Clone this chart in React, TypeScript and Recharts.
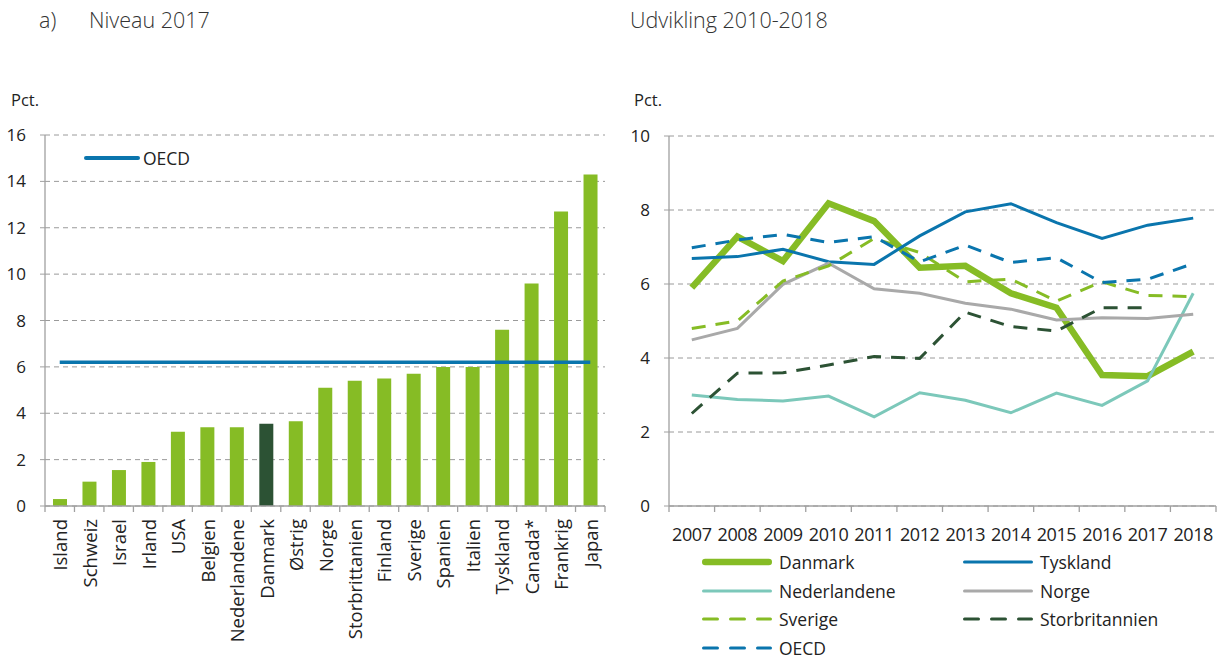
import React from "react";
import {
  Bar,
  CartesianGrid,
  Cell,
  ComposedChart,
  Line,
  LineChart,
  XAxis,
  YAxis,
} from "recharts";

const FONT = "'Open Sans', 'Noto Sans', sans-serif";
const TEXT = "#222";
const AXIS = "#a0a0a0";
const GRID = "#9a9a9a";
const GREEN = "#86bc25";
const DARK_GREEN = "#2c5234";
const BLUE = "#0a75ad";
const TEAL = "#7cc8ba";
const GREY = "#a9a9a9";

// Niveau 2017
const countries = [
  "Island", "Schweiz", "Israel", "Irland", "USA", "Belgien", "Nederlandene",
  "Danmark", "Østrig", "Norge", "Storbrittanien", "Finland", "Sverige",
  "Spanien", "Italien", "Tyskland", "Canada*", "Frankrig", "Japan",
];
const level2017 = [
  0.3, 1.05, 1.55, 1.9, 3.2, 3.4, 3.4, 3.55, 3.65, 5.1, 5.4, 5.5, 5.7, 6.0,
  6.0, 7.6, 9.6, 12.7, 14.3,
];
const oecd2017 = 6.2;
const highlighted = "Danmark";
const levelTicks = [0, 2, 4, 6, 8, 10, 12, 14, 16];

// Udvikling
const years = [
  "2007", "2008", "2009", "2010", "2011", "2012",
  "2013", "2014", "2015", "2016", "2017", "2018",
];
const danmark = [5.9, 7.28, 6.62, 8.18, 7.7, 6.44, 6.49, 5.75, 5.36, 3.54, 3.51, 4.17];
const tyskland = [6.69, 6.74, 6.94, 6.6, 6.53, 7.3, 7.95, 8.17, 7.66, 7.23, 7.59, 7.78];
const nederlandene = [3.0, 2.88, 2.84, 2.97, 2.41, 3.06, 2.86, 2.52, 3.05, 2.72, 3.38, 5.75];
const norge = [4.49, 4.8, 5.99, 6.56, 5.87, 5.75, 5.48, 5.32, 5.03, 5.09, 5.07, 5.18];
const sverige = [4.8, 5.0, 6.08, 6.49, 7.23, 6.85, 6.06, 6.13, 5.54, 6.06, 5.69, 5.66];
const storbritannien = [2.5, 3.59, 3.6, 3.81, 4.04, 3.99, 5.24, 4.85, 4.73, 5.36, 5.36, null];
const oecd = [6.98, 7.19, 7.34, 7.12, 7.28, 6.6, 7.05, 6.58, 6.71, 6.04, 6.13, 6.55];
const trendTicks = [0, 2, 4, 6, 8, 10];

const series = [
  { key: "Danmark", values: danmark, color: GREEN, width: 6.5, dash: undefined },
  { key: "Tyskland", values: tyskland, color: BLUE, width: 3, dash: undefined },
  { key: "Nederlandene", values: nederlandene, color: TEAL, width: 3, dash: undefined },
  { key: "Norge", values: norge, color: GREY, width: 3, dash: undefined },
  { key: "Sverige", values: sverige, color: GREEN, width: 3, dash: "14 10" },
  { key: "Storbritannien", values: storbritannien, color: DARK_GREEN, width: 3, dash: "14 10" },
  { key: "OECD", values: oecd, color: BLUE, width: 3, dash: "14 10" },
];

const barData = countries.map((country, i) => ({
  country,
  value: level2017[i],
  oecd: oecd2017,
}));

const lineData = years.map((year, i) => {
  const row: Record<string, any> = { year };
  series.forEach((s) => (row[s.key] = s.values[i]));
  return row;
});

const LEFT_BAND = 560 / countries.length;
const RIGHT_BAND = 547 / years.length;

const CategoryTick = (props: any) => {
  const { x, y, payload, index, band, count, rotate } = props;
  const last = index === count - 1;
  const ly = y + (rotate ? 13 : 35);
  return (
    <g>
      <line x1={x - band / 2} y1={y} x2={x - band / 2} y2={y + 6} stroke={AXIS} strokeWidth={1.3} />
      {last && (
        <line x1={x + band / 2} y1={y} x2={x + band / 2} y2={y + 6} stroke={AXIS} strokeWidth={1.3} />
      )}
      {rotate ? (
        <text
          x={x}
          y={ly}
          transform={`rotate(-90, ${x}, ${ly})`}
          textAnchor="end"
          dominantBaseline="central"
          fontSize={18.5}
          fill={TEXT}
          fontFamily={FONT}
        >
          {payload.value}
        </text>
      ) : (
        <text x={x} y={ly} textAnchor="middle" fontSize={18} fill={TEXT} fontFamily={FONT} letterSpacing={-0.4}>
          {payload.value}
        </text>
      )}
    </g>
  );
};

const LegendSwatch = ({ color, width, dash }: any) => (
  <svg width={72} height={10} style={{ display: "block" }}>
    <line
      x1={width / 2 + 1}
      y1={5}
      x2={71 - width / 2}
      y2={5}
      stroke={color}
      strokeWidth={width}
      strokeDasharray={dash ? "14 13" : undefined}
      strokeLinecap="round"
    />
  </svg>
);

const TrendLegend = () => (
  <div
    style={{
      position: "absolute",
      left: 701,
      top: 548,
      display: "grid",
      gridTemplateColumns: "261px 200px",
      fontFamily: FONT,
      fontSize: 17.5,
      lineHeight: "20px",
      color: TEXT,
    }}
  >
    {series.map((s) => (
      <div key={s.key} style={{ display: "flex", alignItems: "center", height: 28.6 }}>
        <LegendSwatch color={s.color} width={s.width} dash={s.dash} />
        <span style={{ marginLeft: 6 }}>{s.key}</span>
      </div>
    ))}
  </div>
);

const LevelLegend = () => (
  <div
    style={{
      position: "absolute",
      left: 84,
      top: 147,
      display: "flex",
      alignItems: "center",
      height: 22,
      fontFamily: FONT,
      fontSize: 17.5,
      color: TEXT,
    }}
  >
    <svg width={56} height={10} style={{ display: "block" }}>
      <line x1={2} y1={5} x2={54} y2={5} stroke={BLUE} strokeWidth={4} strokeLinecap="round" />
    </svg>
    <span style={{ marginLeft: 3 }}>OECD</span>
  </div>
);

const titleStyle: React.CSSProperties = {
  position: "absolute",
  fontFamily: FONT,
  fontSize: 21.5,
  fontWeight: 300,
  color: "#333",
  lineHeight: "24px",
  whiteSpace: "nowrap",
};

const unitStyle: React.CSSProperties = {
  position: "absolute",
  fontFamily: FONT,
  fontSize: 16.5,
  color: TEXT,
  lineHeight: "20px",
};

export default function App() {
  return (
    <div style={{ position: "absolute", left: 0, top: 0, width: 1220, height: 659, background: "#fff" }}>
      <div style={{ ...titleStyle, left: 39, top: 8 }}>a)</div>
      <div style={{ ...titleStyle, left: 89, top: 8 }}>Niveau 2017</div>
      <div style={{ ...titleStyle, left: 630, top: 8 }}>Udvikling 2010-2018</div>
      <div style={{ ...unitStyle, left: 11, top: 90 }}>Pct.</div>
      <div style={{ ...unitStyle, left: 634, top: 90 }}>Pct.</div>

      <div style={{ position: "absolute", left: 0, top: 0 }}>
        <ComposedChart
          width={620}
          height={659}
          data={barData}
          margin={{ top: 135, right: 15, left: 0, bottom: 0 }}
        >
          <CartesianGrid vertical={false} stroke={GRID} strokeDasharray="5 4" />
          <XAxis
            dataKey="country"
            interval={0}
            height={153}
            tickLine={false}
            tickSize={0}
            tickMargin={0}
            axisLine={{ stroke: AXIS, strokeWidth: 1.3 }}
            tick={(p: any) => <CategoryTick {...p} band={LEFT_BAND} count={countries.length} rotate />}
          />
          <YAxis
            width={45}
            domain={[0, 16]}
            ticks={levelTicks}
            interval={0}
            tickSize={5}
            tickMargin={14}
            axisLine={{ stroke: AXIS, strokeWidth: 1.3 }}
            tickLine={{ stroke: AXIS }}
            tick={{ fontSize: 17, fill: TEXT, fontFamily: FONT }}
          />
          <Bar dataKey="value" barSize={14} isAnimationActive={false}>
            {barData.map((d) => (
              <Cell key={d.country} fill={d.country === highlighted ? DARK_GREEN : GREEN} />
            ))}
          </Bar>
          <Line
            dataKey="oecd"
            name="OECD"
            stroke={BLUE}
            strokeWidth={3.5}
            dot={false}
            activeDot={false}
            isAnimationActive={false}
          />
        </ComposedChart>
      </div>
      <LevelLegend />

      <div style={{ position: "absolute", left: 620, top: 0 }}>
        <LineChart
          width={600}
          height={659}
          data={lineData}
          margin={{ top: 136, right: 4, left: 0, bottom: 0 }}
        >
          <CartesianGrid vertical={false} stroke={GRID} strokeDasharray="5 4" />
          <XAxis
            dataKey="year"
            interval={0}
            height={153}
            padding={{ left: RIGHT_BAND / 2, right: RIGHT_BAND / 2 }}
            tickLine={false}
            tickSize={0}
            tickMargin={0}
            axisLine={{ stroke: AXIS, strokeWidth: 1.3 }}
            tick={(p: any) => <CategoryTick {...p} band={RIGHT_BAND} count={years.length} />}
          />
          <YAxis
            width={49}
            domain={[0, 10]}
            ticks={trendTicks}
            interval={0}
            tickSize={5}
            tickMargin={14}
            axisLine={{ stroke: AXIS, strokeWidth: 1.3 }}
            tickLine={{ stroke: AXIS }}
            tick={{ fontSize: 17, fill: TEXT, fontFamily: FONT }}
          />
          {series.map((s) => (
            <Line
              key={s.key}
              type="linear"
              dataKey={s.key}
              stroke={s.color}
              strokeWidth={s.width}
              strokeDasharray={s.dash}
              dot={false}
              activeDot={false}
              connectNulls={false}
              isAnimationActive={false}
            />
          ))}
        </LineChart>
      </div>
      <TrendLegend />
    </div>
  );
}
